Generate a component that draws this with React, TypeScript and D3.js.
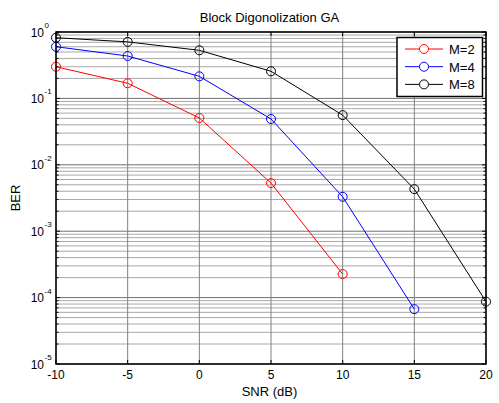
import React from "react";
import * as d3 from "d3";

const snr = [-10, -5, 0, 5, 10, 15, 20];
const berM2 = [0.3, 0.169, 0.0507, 0.0053, 0.000226];
const berM4 = [0.6, 0.435, 0.215, 0.049, 0.0033, 0.000067];
const berM8 = [0.82, 0.71, 0.53, 0.256, 0.056, 0.0043, 0.000087];
const seriesNames = ["M=2", "M=4", "M=8"];
const seriesColors = ["#ff0000", "#0000ff", "#000000"];
const xTicks = [-10, -5, 0, 5, 10, 15, 20];
const yExponents = [0, -1, -2, -3, -4, -5];

const W = 499;
const H = 403;
const L = 56, R = 486, T = 32, B = 364;

export default function App() {
  const x = d3.scaleLinear().domain([-10, 20]).range([L, R]);
  const y = d3.scaleLog().domain([1e-5, 1]).range([B, T]);
  const series = [berM2, berM4, berM8];
  const line = d3
    .line<[number, number]>()
    .x((d) => x(d[0]))
    .y((d) => y(d[1]));

  const minor: number[] = [];
  for (let e = -5; e < 0; e++) {
    for (let k = 2; k <= 9; k++) minor.push(k * Math.pow(10, e));
  }
  const font = "Arial, 'Liberation Sans', sans-serif";

  return (
    <svg
      width={W}
      height={H}
      style={{ position: "absolute", left: 0, top: 0, background: "#fff" }}
      fontFamily={font}
    >
      <rect x={0} y={0} width={W} height={H} fill="#fff" />
      {/* minor grid */}
      {minor.map((v, i) => (
        <line key={"mg" + i} x1={L} x2={R} y1={y(v)} y2={y(v)} stroke="#a8a8a8" strokeWidth={1} />
      ))}
      {/* major grid */}
      {yExponents.map((e) => (
        <line key={"Mg" + e} x1={L} x2={R} y1={y(Math.pow(10, e))} y2={y(Math.pow(10, e))} stroke="#707070" strokeWidth={1} />
      ))}
      {xTicks.map((t) => (
        <line key={"xg" + t} x1={x(t)} x2={x(t)} y1={T} y2={B} stroke="#808080" strokeWidth={1} />
      ))}
      {/* ticks */}
      {xTicks.map((t) => (
        <g key={"xt" + t}>
          <line x1={x(t)} x2={x(t)} y1={B} y2={B - 4} stroke="#000" />
          <line x1={x(t)} x2={x(t)} y1={T} y2={T + 4} stroke="#000" />
          <text x={x(t)} y={B + 15} fontSize={12} textAnchor="middle" fill="#000">
            {t}
          </text>
        </g>
      ))}
      {minor.map((v, i) => (
        <g key={"myt" + i}>
          <line x1={L} x2={L + 2.5} y1={y(v)} y2={y(v)} stroke="#000" />
          <line x1={R} x2={R - 2.5} y1={y(v)} y2={y(v)} stroke="#000" />
        </g>
      ))}
      {yExponents.map((e) => (
        <g key={"yt" + e}>
          <line x1={L} x2={L + 4} y1={y(Math.pow(10, e))} y2={y(Math.pow(10, e))} stroke="#000" />
          <line x1={R} x2={R - 4} y1={y(Math.pow(10, e))} y2={y(Math.pow(10, e))} stroke="#000" />
          <text x={44} y={y(Math.pow(10, e)) + 4.5} fontSize={12} textAnchor="end" fill="#000">
            10
          </text>
          <text x={44.5} y={y(Math.pow(10, e)) - 4} fontSize={8} textAnchor="start" fill="#000">
            {e}
          </text>
        </g>
      ))}
      {/* series */}
      {series.map((s, si) => {
        const pts: [number, number][] = s.map((v, i) => [snr[i], v]);
        return (
          <g key={"s" + si}>
            <path d={line(pts) || ""} fill="none" stroke={seriesColors[si]} strokeWidth={1} />
            {pts.map((p, i) => (
              <circle key={i} cx={x(p[0])} cy={y(p[1])} r={4.5} fill="none" stroke={seriesColors[si]} strokeWidth={1} />
            ))}
          </g>
        );
      })}
      {/* axes box */}
      <rect x={L} y={T} width={R - L} height={B - T} fill="none" stroke="#000" strokeWidth={1.5} />
      {/* legend */}
      <rect x={397} y={37.5} width={85.5} height={59} fill="#fff" stroke="#000" strokeWidth={1.5} />
      {seriesNames.map((n, i) => {
        const ly = 49 + i * 17.7;
        return (
          <g key={"lg" + i}>
            <line x1={405} x2={443} y1={ly} y2={ly} stroke={seriesColors[i]} />
            <circle cx={424} cy={ly} r={4.5} fill="#fff" stroke={seriesColors[i]} />
            <text x={449} y={ly + 5} fontSize={13} fill="#000">
              {n}
            </text>
          </g>
        );
      })}
      {/* labels */}
      <text x={269.5} y={22} fontSize={13} textAnchor="middle" fill="#000">
        Block Digonolization GA
      </text>
      <text x={269.5} y={396} fontSize={13} textAnchor="middle" fill="#000">
        SNR (dB)
      </text>
      <text transform={`translate(20,${(T + B) / 2}) rotate(-90)`} fontSize={13} textAnchor="middle" fill="#000">
        BER
      </text>
    </svg>
  );
}
